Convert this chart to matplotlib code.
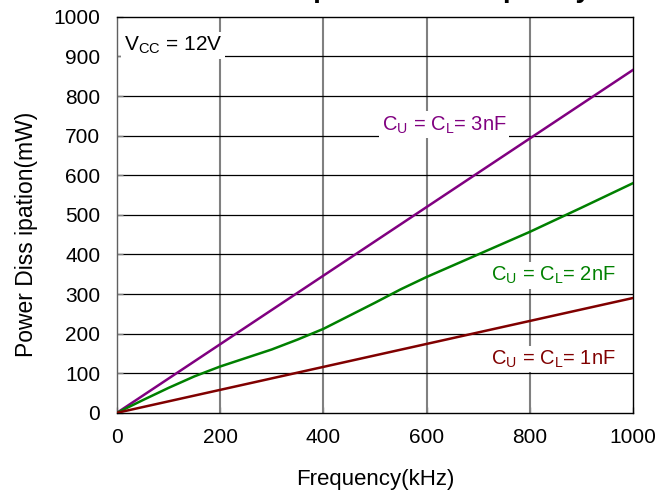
import matplotlib
matplotlib.use('Agg')
import matplotlib.pyplot as plt

plt.rcParams['font.family'] = ['Liberation Sans', 'DejaVu Sans']
plt.rcParams['mathtext.fontset'] = 'custom'
plt.rcParams['mathtext.rm'] = 'Liberation Sans'
plt.rcParams['mathtext.it'] = 'Liberation Sans'

# frequency (kHz) and power dissipation (mW) per load capacitance
freq = [0, 1000]
p_3nf = [0, 866]
p_1nf = [0, 290]

freq_2nf = [0, 50, 100, 150, 200, 300, 350, 400, 450, 500, 550, 600, 700, 800, 900, 1000]
p_2nf = [0, 32, 63, 92, 117, 160, 185, 212, 245, 278, 312, 343, 400, 457, 518, 580]

xticks = [0, 200, 400, 600, 800, 1000]
yticks = [0, 100, 200, 300, 400, 500, 600, 700, 800, 900, 1000]

purple = '#800080'
green = '#008000'
darkred = '#800000'

fig = plt.figure(figsize=(6.72, 4.95), dpi=100)
ax = fig.add_axes([0.174, 0.166, 0.768, 0.800])

# grid: grey verticals, black horizontals
for x in xticks[1:-1]:
    ax.axvline(x, color='#808080', lw=1.5, zorder=1)
for y in yticks[1:-1]:
    ax.axhline(y, color='black', lw=0.9, zorder=1)

ax.plot(freq, p_3nf, color=purple, lw=1.8, zorder=3)
ax.plot(freq_2nf, p_2nf, color=green, lw=1.8, zorder=3)
ax.plot(freq, p_1nf, color=darkred, lw=1.8, zorder=3)

box = dict(facecolor='white', edgecolor='none', pad=2)
ax.text(13, 927, r'V$_{\rm CC}$ = 12V', fontsize=15, va='center', ha='left', bbox=box, zorder=4)
ax.text(513, 727, r'C$_{\rm U}$ = C$_{\rm L}$= 3nF', fontsize=14.5, color=purple,
        va='center', ha='left', bbox=box, zorder=4)
ax.text(725, 346, r'C$_{\rm U}$ = C$_{\rm L}$= 2nF', fontsize=14.5, color=green,
        va='center', ha='left', bbox=box, zorder=4)
ax.text(725, 136, r'C$_{\rm U}$ = C$_{\rm L}$= 1nF', fontsize=14.5, color=darkred,
        va='center', ha='left', bbox=box, zorder=4)

ax.set_xlim(0, 1000)
ax.set_ylim(0, 1000)
ax.set_xticks(xticks)
ax.set_yticks(yticks)
ax.tick_params(direction='in', length=4, width=1, labelsize=15, color='#808080')
ax.tick_params(axis='x', pad=11)
ax.tick_params(axis='y', pad=12)
for s in ax.spines.values():
    s.set_linewidth(1.0)
ax.spines['left'].set_color('#606060')

ax.set_xlabel('Frequency(kHz)', fontsize=16)
ax.set_ylabel('Power Diss ipation(mW)', fontsize=16.5)
ax.xaxis.set_label_coords(0.5, -0.142)
ax.yaxis.set_label_coords(-0.152, 0.45)

# title sits above the top edge, only its descenders show
fig.text(0.556, 1.0 + 3.0 / 495, 'Power Dissipation vs. Frequency', fontsize=20,
         fontweight='bold', ha='center', va='baseline')

fig.savefig('out.png', dpi=100)
